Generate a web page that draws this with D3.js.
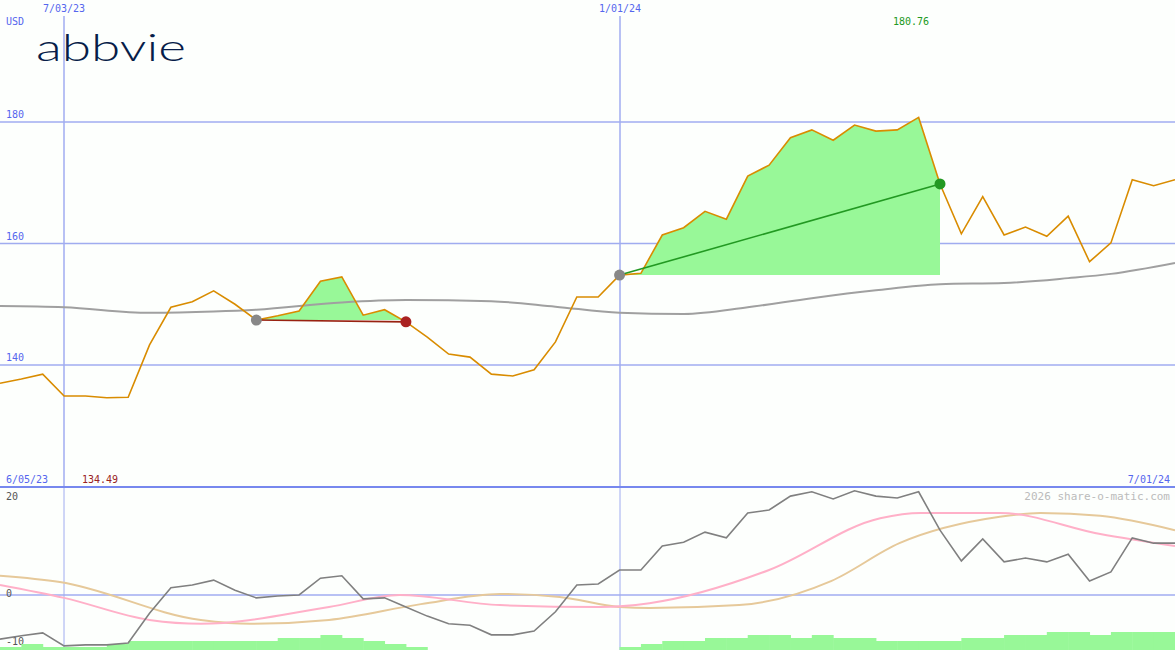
<!DOCTYPE html>
<html><head><meta charset="utf-8">
<script src="https://cdn.jsdelivr.net/npm/d3@7"></script>
<style>body{margin:0;background:#fdfffd}svg{display:block}</style>
</head><body>
<script>
const prices=[137.0,137.7,138.5,134.9,134.9,134.6,134.7,143.3,149.5,150.4,152.2,150.0,147.4,148.1,148.9,153.8,154.5,148.2,149.1,147.1,144.6,141.8,141.3,138.5,138.2,139.2,143.8,151.2,151.2,154.8,155.1,161.4,162.6,165.3,164.0,171.1,172.9,177.4,178.7,177.0,179.5,178.5,178.7,180.76,169.8,161.6,167.7,161.4,162.7,161.2,164.5,157.0,160.1,170.5,169.5,170.5];
const maIdx=[0,3,7,10,12,16,19,23,26,29,32,35,38,41,44,47,50,52,55];
const maVals=[149.7,149.5,148.6,148.8,149.1,150.3,150.7,150.5,149.6,148.6,148.4,149.5,151.0,152.3,153.3,153.5,154.3,155.0,156.8];
const mom=[-9.2,-8.5,-7.9,-10.6,-10.4,-10.4,-10.0,-3.8,1.5,2.1,3.1,1.0,-0.6,-0.2,0,3.5,4.0,-0.8,-0.6,-2.5,-4.4,-6.0,-6.3,-8.3,-8.3,-7.5,-3.5,2.1,2.3,5.2,5.2,10.2,11.0,13.1,11.9,17.1,17.7,20.6,21.5,20.0,21.7,20.6,20.2,21.5,13.5,7.1,11.7,6.9,7.7,6.9,8.5,2.9,4.8,11.9,10.8,10.8];
const pinkIdx=[0,3,7,9.4,15.4,18.7,23.4,28.1,30.4,36,41.2,43.1,46.8,51.5,55];
const pinkVals=[2.1,-0.6,-5.2,-6.0,-2.5,0,-2.1,-2.5,-1.7,5.2,16.0,17.1,17.1,12.7,10.2];
const tanIdx=[0,2.8,9.4,11.7,15.4,19.7,23.4,26.2,29,30.4,34.6,38.9,42.1,46.8,48.7,51.5,55];
const tanVals=[4.0,2.7,-5.2,-6.0,-5.2,-1.9,0.2,-0.4,-2.5,-2.7,-2.1,2.9,10.8,16.3,17.1,16.5,13.5];
const vol=[1,2,1,1,1,2,3,3,3,3,3,3,3,4,4,5,4,3,2,1,0,0,0,0,0,0,0,0,0,1,2,3,3,4,4,5,5,4,5,4,4,3,3,3,3,4,4,5,5,6,6,5,6,6,6];
const priceTicks=[140,160,180];
const momTicks=[-10,0,20];
const trades=[{a:12,b:19,win:false},{a:29,b:44,win:true}];
const lowLabel="134.49";

const W=1175,H=650;
const svg=d3.select("body").append("svg").attr("width",W).attr("height",H);
const x=d3.scaleLinear().domain([0,55]).range([0,1175]);
const y=d3.scaleLinear().domain([140,180]).range([365,122]);
const y2=d3.scaleLinear().domain([-10,20]).range([643,499]);
const yv=d3.scaleLinear().domain([0,6]).range([650,632]);
const mono="DejaVu Sans Mono, monospace";
const grid="#a0acf0", lab="#5566ee";

priceTicks.forEach(t=>{svg.append("line").attr("x1",0).attr("x2",W).attr("y1",y(t)).attr("y2",y(t)).attr("stroke",grid).attr("stroke-width",1.5);
 svg.append("text").attr("x",6).attr("y",y(t)-4).text(t).attr("font-family",mono).attr("font-size",10).attr("fill",lab);});
svg.append("line").attr("x1",0).attr("x2",W).attr("y1",y2(0)).attr("y2",y2(0)).attr("stroke",grid).attr("stroke-width",1.5);
[[64,"7/03/23"],[620,"1/01/24"]].forEach(([vx,t])=>{
 svg.append("line").attr("x1",vx).attr("x2",vx).attr("y1",16).attr("y2",487).attr("stroke",grid).attr("stroke-width",1.5);
 svg.append("line").attr("x1",vx).attr("x2",vx).attr("y1",487).attr("y2",650).attr("stroke",grid).attr("stroke-width",1);
 svg.append("text").attr("x",vx).attr("y",12).attr("text-anchor","middle").text(t).attr("font-family",mono).attr("font-size",10).attr("fill",lab);});
svg.append("line").attr("x1",0).attr("x2",W).attr("y1",487).attr("y2",487).attr("stroke","#7788ee").attr("stroke-width",2);
svg.append("text").attr("x",6).attr("y",25).text("USD").attr("font-family",mono).attr("font-size",10).attr("fill",lab);
svg.append("text").attr("x",36).attr("y",61).text("abbvie").attr("font-family","Lato, sans-serif").attr("font-weight",300).attr("font-size",38).attr("textLength",150).attr("lengthAdjust","spacingAndGlyphs").attr("fill","#071d49");
svg.append("text").attr("x",6).attr("y",483).text("6/05/23").attr("font-family",mono).attr("font-size",10).attr("fill",lab);
svg.append("text").attr("x",1170).attr("y",483).attr("text-anchor","end").text("7/01/24").attr("font-family",mono).attr("font-size",10).attr("fill",lab);
svg.append("text").attr("x",82).attr("y",483).text(lowLabel).attr("font-family",mono).attr("font-size",10).attr("fill","#992222");
svg.append("text").attr("x",911).attr("y",25).attr("text-anchor","middle").text(d3.max(prices).toFixed(2)).attr("font-family",mono).attr("font-size",10).attr("fill","#229922");
svg.append("text").attr("x",1170).attr("y",500).attr("text-anchor","end").text("2026 share-o-matic.com").attr("font-family",mono).attr("font-size",11).attr("fill","#bbbbbb");
momTicks.forEach(t=>svg.append("text").attr("x",6).attr("y",y2(t)+(t===20?1:2)).text(t).attr("font-family",mono).attr("font-size",10).attr("fill","#555"));

trades.forEach(tr=>{
 const lvl=prices[tr.a], idx=d3.range(tr.a,tr.b+1);
 const base=d3.area().x(i=>x(i)).y0(y(lvl));
 const cid="c"+tr.a;
 const defs=svg.append("defs");
 defs.append("clipPath").attr("id",cid+"u").append("rect").attr("x",0).attr("y",0).attr("width",W).attr("height",y(lvl));
 defs.append("clipPath").attr("id",cid+"d").append("rect").attr("x",0).attr("y",y(lvl)).attr("width",W).attr("height",H);
 svg.append("path").datum(idx).attr("d",base.y1(i=>y(prices[i]))).attr("fill","#98f898").attr("clip-path",`url(#${cid}u)`);
 svg.append("path").datum(idx).attr("d",base.y1(i=>y(prices[i]))).attr("fill","#ffb0b8").attr("clip-path",`url(#${cid}d)`);
});
const maLine=d3.line().x((d,i)=>x(maIdx[i])).y(d=>y(d)).curve(d3.curveMonotoneX);
svg.append("path").datum(maVals).attr("d",maLine).attr("fill","none").attr("stroke","#a0a0a0").attr("stroke-width",2);
svg.append("path").datum(prices).attr("d",d3.line().x((d,i)=>x(i)).y(d=>y(d))).attr("fill","none").attr("stroke","#d98c00").attr("stroke-width",1.6);
trades.forEach(tr=>{
 const c=tr.win?"#229922":"#992211";
 svg.append("line").attr("x1",x(tr.a)).attr("y1",y(prices[tr.a])).attr("x2",x(tr.b)).attr("y2",y(prices[tr.b])).attr("stroke",c).attr("stroke-width",1.6);
 svg.append("circle").attr("cx",x(tr.a)).attr("cy",y(prices[tr.a])).attr("r",5.5).attr("fill","#888");
 svg.append("circle").attr("cx",x(tr.b)).attr("cy",y(prices[tr.b])).attr("r",5.5).attr("fill",tr.win?"#229922":"#aa2222");
});
svg.selectAll(".v").data(vol).enter().append("rect").attr("x",(d,i)=>x(i)).attr("width",x(1)-x(0)+0.5).attr("y",d=>yv(d)).attr("height",d=>650-yv(d)).attr("fill","#98f898");
const sm=(ix)=>d3.line().x((d,i)=>x(ix[i])).y(d=>y2(d)).curve(d3.curveMonotoneX);
svg.append("path").datum(tanVals).attr("d",sm(tanIdx)).attr("fill","none").attr("stroke","#e6c99a").attr("stroke-width",2);
svg.append("path").datum(pinkVals).attr("d",sm(pinkIdx)).attr("fill","none").attr("stroke","#ffb0c8").attr("stroke-width",2);
svg.append("path").datum(mom).attr("d",d3.line().x((d,i)=>x(i)).y(d=>y2(d))).attr("fill","none").attr("stroke","#808080").attr("stroke-width",1.6);
</script>
</body></html>
